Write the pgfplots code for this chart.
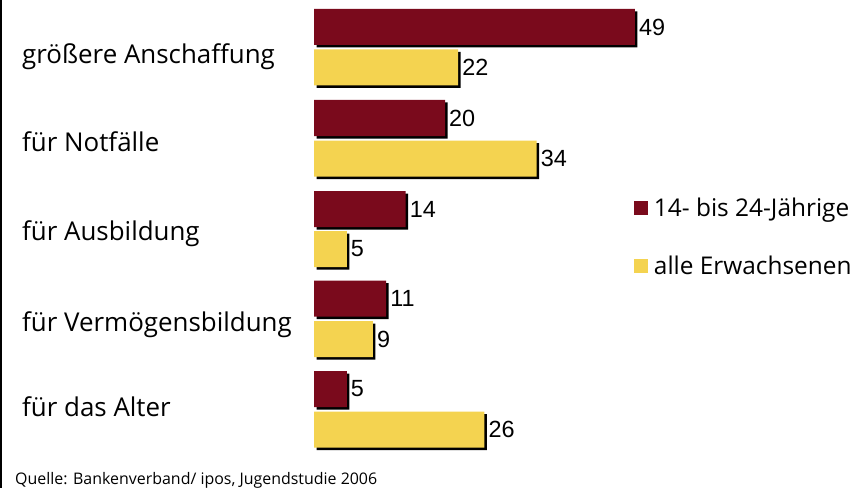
\documentclass[border=0pt]{standalone}
\usepackage{pgfplots}
\pgfplotsset{compat=1.18}
\usepackage{pgfplotstable}
\usepackage{fontspec}
\setmainfont{Open Sans}
\newfontfamily\arialf{Liberation Sans}
\definecolor{dred}{HTML}{7A0A1C}
\definecolor{dyel}{HTML}{F4D350}

\pgfplotstableread{
pos val
27 49
118 20
209 14
298.5 11
389 5
}\young
\pgfplotstableread{
pos val
67.5 22
158.5 34
249 5
339 9
429.5 26
}\adults

\begin{document}
\begin{tikzpicture}
\begin{axis}[
  scale only axis,
  width=866bp, height=488bp,
  xmin=-47.79, xmax=84.43,
  ymin=0, ymax=488,
  enlargelimits=false,
  y dir=reverse,
  axis x line=none,
  axis y line*=left,
  y axis line style={line width=2bp, black},
  xtick=\empty,
  ytick={63.3,151.7,240.7,331.7,416.7},
  yticklabels={größere Anschaffung, für Notfälle, für Ausbildung, für Vermögensbildung, für das Alter},
  major tick length=0pt,
  yticklabel style={anchor=base west, inner sep=0pt, xshift=21bp, font=\fontsize{26}{30}\selectfont},
  xbar, bar width=36, bar shift=0pt,
  point meta=x,
  /pgf/number format/assume math mode=true,
  legend style={at={(axis cs:48.85,197.5)}, anchor=north west, draw=none, fill=none,
    inner sep=0pt, outer sep=0pt, nodes={inner sep=0pt, anchor=west}, row sep=38bp,
    font=\fontsize{24.5}{27}\selectfont},
  legend cell align=left,
  legend image code/.code={\fill (0bp,-7bp) rectangle (14bp,7bp); \path (20bp,0bp);},
  clip=false,
]
\addplot[fill=black, draw=none, xshift=2.5bp, yshift=-2.5bp, forget plot] table[x=val, y=pos]{\young};
\addplot[fill=black, draw=none, xshift=2.5bp, yshift=-2.5bp, forget plot] table[x=val, y=pos]{\adults};
\addplot[fill=dred, draw=none, nodes near coords,
  every node near coord/.append style={anchor=west, inner sep=0pt, xshift=4bp, text=black, font=\arialf\fontsize{23.5}{26}\selectfont}]
  table[x=val, y=pos]{\young};
\addlegendentry{14- bis 24-Jährige}
\addplot[fill=dyel, draw=none, nodes near coords,
  every node near coord/.append style={anchor=west, inner sep=0pt, xshift=4bp, text=black, font=\arialf\fontsize{23.5}{26}\selectfont}]
  table[x=val, y=pos]{\adults};
\addlegendentry{alle Erwachsenen}
\node[anchor=base west, inner sep=0pt, font=\fontsize{16}{18}\selectfont] at (axis cs:-45.65,484) {Quelle: Bankenverband/ ipos, Jugendstudie 2006};
\end{axis}
\pgfresetboundingbox
\path[use as bounding box] ([xshift=-1bp]current axis.south west) rectangle (current axis.north east);
\end{tikzpicture}
\end{document}
